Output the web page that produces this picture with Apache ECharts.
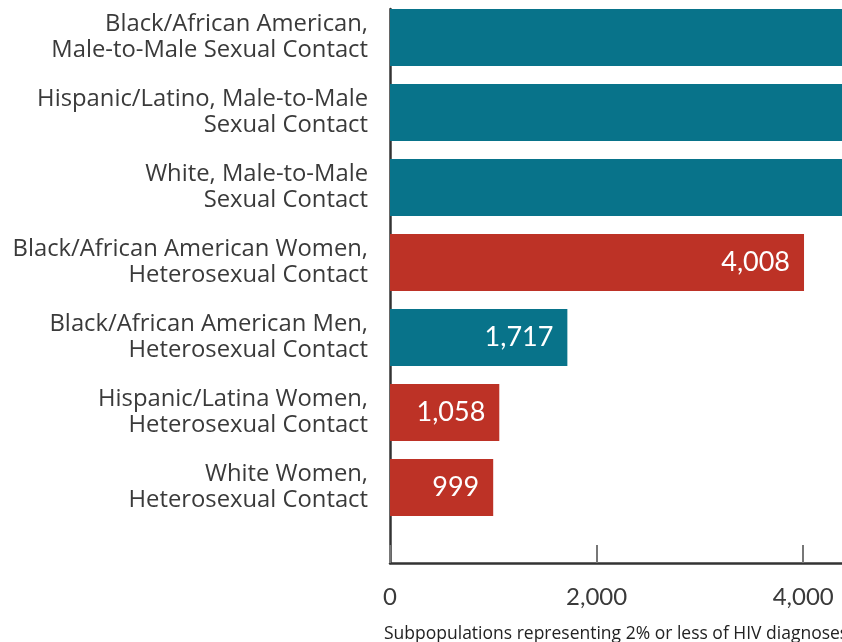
<!DOCTYPE html>
<html>
<head>
<meta charset="utf-8">
<script src="https://cdn.jsdelivr.net/npm/echarts@6/dist/echarts.min.js"></script>
<style>
  html, body { margin: 0; padding: 0; background: #fff; overflow: hidden; width: 842px; height: 642px; }
  #chart { width: 1500px; height: 642px; }
</style>
</head>
<body>
<div id="chart"></div>
<script>
// HIV diagnoses by subpopulation (transmission category)
const categories = [
  'Black/African American,\nMale-to-Male Sexual Contact',
  'Hispanic/Latino, Male-to-Male\nSexual Contact',
  'White, Male-to-Male\nSexual Contact',
  'Black/African American Women,\nHeterosexual Contact',
  'Black/African American Men,\nHeterosexual Contact',
  'Hispanic/Latina Women,\nHeterosexual Contact',
  'White Women,\nHeterosexual Contact'
];
const diagnoses = [9807, 7436, 6252, 4008, 1717, 1058, 999];
const groupType = ['men', 'men', 'men', 'women', 'men', 'women', 'women'];
const xTicks = { min: 0, max: 10000, interval: 2000 };
const footnote = 'Subpopulations representing 2% or less of HIV diagnoses';

const TEAL = '#08738a';
const RED = '#bd3226';
const FONT = 'Open Sans';
const NUM_FONT = 'Lato';

const chart = echarts.init(document.getElementById('chart'));

chart.setOption({
  backgroundColor: '#ffffff',
  animation: false,
  textStyle: { fontFamily: FONT },
  title: {
    text: footnote,
    left: 379,
    top: 620,
    textStyle: { fontFamily: FONT, fontSize: 17.5, fontWeight: 'normal', color: '#222' }
  },
  grid: [
    { left: 390, top: 0, width: 1033, height: 525 },
    { left: 390, top: 9, width: 1033, height: 554 }
  ],
  xAxis: [
    {
      gridIndex: 0, type: 'value', min: xTicks.min, max: xTicks.max, interval: xTicks.interval,
      show: false
    },
    {
      gridIndex: 1, type: 'value', min: xTicks.min, max: xTicks.max, interval: xTicks.interval,
      axisLine: { show: true, lineStyle: { color: '#333', width: 2.5 } },
      axisTick: { show: true, inside: true, length: 18, lineStyle: { color: '#777', width: 2 } },
      axisLabel: {
        margin: 22, fontSize: 24, color: '#3a3a3a', fontFamily: NUM_FONT,
        formatter: v => v === 0 ? '0' : v.toLocaleString('en-US')
      },
      splitLine: { show: false }
    }
  ],
  yAxis: [
    {
      gridIndex: 0, type: 'category', inverse: true, data: categories,
      axisLine: { show: false },
      axisTick: { show: false },
      axisLabel: {
        margin: 22, fontSize: 23.8, lineHeight: 26, color: '#3a3a3a', fontFamily: FONT, align: 'right'
      }
    },
    {
      gridIndex: 1, type: 'value', min: 0, max: 1,
      axisLine: { show: true, lineStyle: { color: '#333', width: 2.5 } },
      axisTick: { show: false },
      axisLabel: { show: false },
      splitLine: { show: false }
    }
  ],
  series: [
    {
      type: 'bar',
      xAxisIndex: 0,
      yAxisIndex: 0,
      barWidth: 57,
      data: diagnoses.map((v, i) => ({
        value: v,
        itemStyle: { color: groupType[i] === 'women' ? RED : TEAL }
      })),
      label: {
        show: true,
        position: 'insideRight',
        distance: 14,
        color: '#fff',
        fontSize: 27,
        fontFamily: NUM_FONT,
        formatter: p => p.value.toLocaleString('en-US')
      }
    }
  ]
});
</script>
</body>
</html>
